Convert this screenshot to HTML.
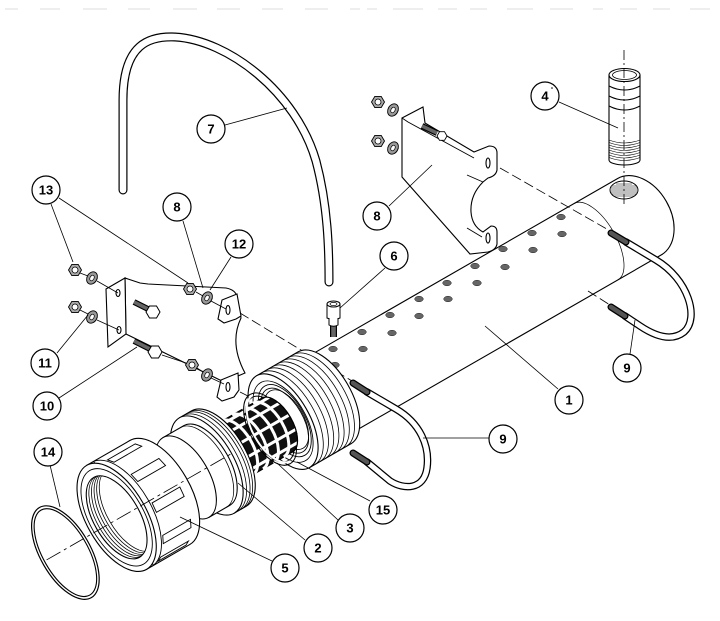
<!DOCTYPE html>
<html><head><meta charset="utf-8"><style>
html,body{margin:0;padding:0;background:#fff;}
svg{display:block;}
text{font-family:"Liberation Sans",Arial,sans-serif;font-weight:bold;font-size:13px;text-anchor:middle;fill:#000;}
</style></head><body>
<svg width="720" height="621" viewBox="0 0 720 621" xmlns="http://www.w3.org/2000/svg" xmlns:xlink="http://www.w3.org/1999/xlink">
<defs>
<g id="nut"><polygon points="6.5,0 3.2,5.6 -3.2,5.6 -6.5,0 -3.2,-5.6 3.2,-5.6" fill="#aaa" stroke="#000" stroke-width="0.9"/><circle r="3" fill="#fff" stroke="#000" stroke-width="0.8"/></g>
<g id="wash"><ellipse rx="5" ry="6.5" transform="rotate(30)" fill="#999" stroke="#000" stroke-width="0.9"/><ellipse rx="2" ry="3" transform="rotate(30)" fill="#fff" stroke="#000" stroke-width="0.7"/></g>
</defs>
<rect width="720" height="621" fill="#fff"/>
<!-- top faint noise -->
<g stroke="#ddd" stroke-width="1">
<path d="M5,9H18M40,9H60M83,9H107M128,9H150M173,9H197M217,9H240M262,9H283M305,9H328M350,9H360M367,9H377M393,9H423M438,9H457M470,9H487M507,9H533M550,9H573M593,9H603M620,9H637M653,9H670M690,9H710"/>
</g>

<!-- U-bolt 7 -->
<path d="M123,190 L123,100 C123,43 150,36 175,37 C228,40 296,92 316,161 C328,206 329,250 329,282" fill="none" stroke="#000" stroke-width="9" stroke-linecap="round"/>
<path d="M123,190 L123,100 C123,43 150,36 175,37 C228,40 296,92 316,161 C328,206 329,250 329,282" fill="none" stroke="#fff" stroke-width="6.6" stroke-linecap="round"/>

<!-- Right bracket 8 -->
<g stroke="#000" stroke-width="1.1" fill="#fff">
<path d="M402,118 L423,107 L425,123 L474,152 L489,146 Q497,146 497,153 L497,170 Q496,176 488,178 L483,182 Q470,195 471,212 Q472,226 483,232 L491,226 Q497,226 497,232 L497,244 Q496,250 488,252 L470,254 L402,177 Z"/>
<path d="M402,118 L408,122 L474,158 M467,175 L483,182 M467,228 L482,237" fill="none" stroke-width="0.9"/>
<ellipse cx="488" cy="163" rx="2" ry="5"/>
<ellipse cx="488" cy="238" rx="2" ry="5"/>
</g>
<line x1="422" y1="126" x2="437" y2="133" stroke="#000" stroke-width="6"/>
<line x1="422" y1="126" x2="437" y2="133" stroke="#666" stroke-width="3.6"/>
<polygon points="447,136 444.5,140.3 439.5,140.3 437,136 439.5,131.7 444.5,131.7" fill="#fff" stroke="#000" stroke-width="0.9"/>
<use xlink:href="#nut" href="#nut" x="378" y="102"/>
<use xlink:href="#wash" href="#wash" x="393" y="110"/>
<use xlink:href="#nut" href="#nut" x="378" y="141"/>
<use xlink:href="#wash" href="#wash" x="393" y="148"/>

<!-- Part 4 fitting -->
<g stroke="#000" stroke-width="1.1">
<path d="M609,75 L609,160 A15.5 5 0 0 0 640,160 L640,75 Z" fill="#fff"/>
<ellipse cx="624.5" cy="75" rx="15.5" ry="6.5" fill="#fff"/>
<ellipse cx="624.5" cy="75" rx="12" ry="4.5" fill="#fff" stroke-width="0.8"/>
<path d="M609,86 Q624.5,94 640,86 M609,96 Q624.5,104 640,96 M609,106 Q624.5,114 640,106" fill="none" stroke-width="1"/>
<path d="M609,140 Q624.5,146 640,140 M609,142.5 Q624.5,148.5 640,142.5 M609,145 Q624.5,151 640,145 M609,147.5 Q624.5,153.5 640,147.5 M609,150 Q624.5,156 640,150 M609,152.5 Q624.5,158.5 640,152.5 M609,155 Q624.5,161 640,155 M609,157.5 Q624.5,163.5 640,157.5" fill="none" stroke-width="0.6"/>
</g>

<!-- Tube 1 -->
<g transform="translate(324.7,397.7) rotate(-29.9)" stroke="#000" stroke-width="1.1">
<path d="M0,-44 L363,-44 A31 44 0 0 1 363,44 L0,44 Z" fill="#fff"/>
<path d="M313,-44 A20 44 0 0 1 313,44" fill="none" stroke-width="0.7"/>
</g>
<!-- threaded hole -->
<ellipse cx="624" cy="190" rx="14" ry="9" fill="#fff" stroke="#000" stroke-width="1"/>
<g stroke="#000" stroke-width="0.5"><path d="M612,186H636M611,188H637M611,190H637M611,192H637M612,194H636M614,196H634M616,184H632"/></g>
<!-- dots -->
<g fill="#666" stroke="#222" stroke-width="0.5">
<ellipse cx="561" cy="217" rx="4.3" ry="2.8"/><ellipse cx="532" cy="233" rx="4.3" ry="2.8"/><ellipse cx="562" cy="234" rx="4.3" ry="2.8"/>
<ellipse cx="503" cy="249" rx="4.3" ry="2.8"/><ellipse cx="533" cy="250" rx="4.3" ry="2.8"/><ellipse cx="475" cy="266" rx="4.3" ry="2.8"/>
<ellipse cx="505" cy="267" rx="4.3" ry="2.8"/><ellipse cx="447" cy="283" rx="4.3" ry="2.8"/><ellipse cx="477" cy="283" rx="4.3" ry="2.8"/>
<ellipse cx="419" cy="299" rx="4.3" ry="2.8"/><ellipse cx="448" cy="299" rx="4.3" ry="2.8"/><ellipse cx="390" cy="315" rx="4.3" ry="2.8"/>
<ellipse cx="419" cy="316" rx="4.3" ry="2.8"/><ellipse cx="362" cy="332" rx="4.3" ry="2.8"/><ellipse cx="392" cy="333" rx="4.3" ry="2.8"/>
<ellipse cx="333" cy="349" rx="4.3" ry="2.8"/><ellipse cx="363" cy="349" rx="4.3" ry="2.8"/><ellipse cx="335" cy="365" rx="4.3" ry="2.8"/>
</g>
<!-- dashed alignment lines -->
<g stroke="#000" stroke-width="0.8" stroke-dasharray="10,4" fill="none">
<path d="M500,168 L612,232"/>
<path d="M588,291 L610,305"/>
<path d="M240,313 L352,381"/>
<path d="M240,392 L262,403"/>
<path d="M624,50 L624,205" stroke-dasharray="10,3,2,3"/>
</g>

<!-- U-bolt 9 right -->
<path d="M626,242 L656,260 C688,279 700,318 684,332 C670,343 652,334 640,326 L625,316" fill="none" stroke="#000" stroke-width="7.5" stroke-linecap="round"/>
<path d="M626,242 L656,260 C688,279 700,318 684,332 C670,343 652,334 640,326 L625,316" fill="none" stroke="#fff" stroke-width="5" stroke-linecap="round"/>
<g stroke-linecap="round"><line x1="611" y1="233" x2="626" y2="242" stroke="#000" stroke-width="7"/><line x1="611" y1="233" x2="626" y2="242" stroke="#555" stroke-width="4.5"/>
<line x1="611" y1="307" x2="625" y2="316" stroke="#000" stroke-width="7"/><line x1="611" y1="307" x2="625" y2="316" stroke="#555" stroke-width="4.5"/></g>
<!-- U-bolt 9 middle -->
<path d="M367,392 L396,409 C420,423 430,446 427,468 C424,490 404,490 390,481 L367,462" fill="none" stroke="#000" stroke-width="7.5" stroke-linecap="round"/>
<path d="M367,392 L396,409 C420,423 430,446 427,468 C424,490 404,490 390,481 L367,462" fill="none" stroke="#fff" stroke-width="5" stroke-linecap="round"/>
<g stroke-linecap="round"><line x1="353" y1="383" x2="367" y2="392" stroke="#000" stroke-width="7"/><line x1="353" y1="383" x2="367" y2="392" stroke="#555" stroke-width="4.5"/>
<line x1="353" y1="453" x2="367" y2="462" stroke="#000" stroke-width="7"/><line x1="353" y1="453" x2="367" y2="462" stroke="#555" stroke-width="4.5"/></g>

<!-- Left assembly along axis -->
<g transform="translate(324.7,397.7) rotate(-29.9)" stroke="#000" stroke-width="1.1">
<defs><clipPath id="bore"><ellipse cx="-240" cy="0" rx="23" ry="46"/></clipPath></defs>
<!-- collar -->
<path d="M-48,-53 L0,-53 A26.5 53 0 0 1 0,53 L-48,53 Z" fill="#fff"/>
<path d="M-42,-53A26.5 53 0 0 1 -42,53M-36,-53A26.5 53 0 0 1 -36,53M-30,-53A26.5 53 0 0 1 -30,53M-24,-53A26.5 53 0 0 1 -24,53M-18,-53A26.5 53 0 0 1 -18,53M-12,-53A26.5 53 0 0 1 -12,53M-6,-53A26.5 53 0 0 1 -6,53" fill="none" stroke-width="0.8"/>
<ellipse cx="-48" cy="0" rx="26.5" ry="53" fill="#fff"/>
<ellipse cx="-48" cy="0" rx="23" ry="45" fill="#fff" stroke-width="0.9"/>
<ellipse cx="-46" cy="0" rx="20" ry="40" fill="#fff" stroke-width="0.9"/>
<ellipse cx="-46" cy="0" rx="18" ry="36" fill="none" stroke-width="0.9"/>
<ellipse cx="-44" cy="0" rx="17" ry="33" fill="none" stroke-width="0.8"/>
<!-- ring 3 back half -->
<path d="M-63,-40 A20 40 0 0 1 -63,40 M-63,-36.5 A18.2 36.5 0 0 1 -63,36.5" fill="none" stroke-width="1"/>
<!-- strainer -->
<path d="M-135,-31 L-55,-31 A15.5 31 0 0 1 -55,31 L-135,31 Z" fill="#111"/>
<g stroke="#fff" stroke-width="3" fill="none">
<path d="M-125,-31A15.5 31 0 0 1 -125,31M-113,-31A15.5 31 0 0 1 -113,31M-101,-31A15.5 31 0 0 1 -101,31M-89,-31A15.5 31 0 0 1 -89,31M-77,-31A15.5 31 0 0 1 -77,31M-65,-31A15.5 31 0 0 1 -65,31"/>
<path d="M-128,-28 L-48,-28 M-122,-17.8 L-42,-17.8 M-120,-2.7 L-40,-2.7 M-121,13 L-41,13 M-126,25.4 L-46,25.4"/>
</g>
<path d="M-55,-31 A15.5 31 0 0 1 -55,31" fill="none" stroke-width="1.2"/>
<!-- ring 3 front half -->
<path d="M-63,-40 A20 40 0 0 0 -63,40 M-63,-36.5 A18.2 36.5 0 0 0 -63,36.5" fill="none" stroke-width="1.1"/>
<path d="M-61,-38 A19 38 0 0 0 -61,38" fill="none" stroke="#fff" stroke-width="2"/>
<!-- adapter 2 -->
<path d="M-136,-55 L-122,-55 A27.5 55 0 0 1 -122,55 L-136,55 Z" fill="#fff"/>
<path d="M-132,-55A27.5 55 0 0 1 -132,55M-128,-55A27.5 55 0 0 1 -128,55M-125,-55A27.5 55 0 0 1 -125,55" fill="none" stroke-width="0.8"/>
<ellipse cx="-136" cy="0" rx="27.5" ry="55" fill="#fff"/>
<path d="M-160,-46 L-136,-46 A23 46 0 0 1 -136,46 L-160,46 Z" fill="#fff"/>
<path d="M-140,-46A23 46 0 0 1 -140,46" fill="none" stroke-width="0.8"/>
<ellipse cx="-160" cy="0" rx="23" ry="46" fill="#fff"/>
<!-- nut 5 -->
<path d="M-240,-60 L-190,-60 A30 60 0 0 1 -190,60 L-240,60 Z" fill="#fff"/>
<g fill="#fff" stroke-width="0.9">
<path d="M-219.3,-54.4 L-187.3,-54.4 L-182.8,-49.1 L-214.8,-49.1 Z"/>
<path d="M-206,-30 L-174,-30 L-171.8,-20.5 L-203.8,-20.5 Z"/>
<path d="M-202.1,5.2 L-170.1,5.2 L-171,15.5 L-203,15.5 Z"/>
<path d="M-209,38.6 L-177,38.6 L-180.7,46 L-212.7,46 Z"/>
<path d="M-221.7,56.4 L-189.7,56.4 L-193.8,58.7 L-225.8,58.7 Z"/>
<path d="M-232,-60 L-232,60" fill="none"/>
</g>
<path d="M-234,-60A30 60 0 0 1 -234,60" fill="none" stroke-width="0.9"/>
<ellipse cx="-240" cy="0" rx="30" ry="60" fill="#fff"/>
<ellipse cx="-240" cy="0" rx="27" ry="54" fill="none" stroke-width="0.9"/>
<ellipse cx="-240" cy="0" rx="23" ry="46" fill="#fff"/>
<g clip-path="url(#bore)" fill="none" stroke-width="0.8">
<path d="M-237,-46A23 46 0 0 0 -237,46M-234,-46A23 46 0 0 0 -234,46M-231,-46A23 46 0 0 0 -231,46M-228,-46A23 46 0 0 0 -228,46M-225,-46A23 46 0 0 0 -225,46"/>
</g>
<!-- O-ring 14 -->
<ellipse cx="-302" cy="5" rx="25" ry="52" fill="none" stroke-width="1.2"/>
<ellipse cx="-302" cy="5" rx="22.5" ry="49" fill="none" stroke-width="1.1"/>
<!-- axis -->
<path d="M-322,2 L-108,2" fill="none" stroke-width="0.8" stroke-dasharray="16,4,3,4"/>
</g>

<!-- Left bracket 8 -->
<g stroke="#000" stroke-width="1.1" fill="#fff">
<path d="M125,278 L140,283 L148,284 L226,288 Q236,290 237,297 L241,318 Q229,343 245,373 L238,376 L222,381 L126,334 Z"/>
<path d="M106,289 L125,278 L126,334 L108,347 Z"/>
<ellipse cx="118" cy="293" rx="2" ry="3.5"/>
<ellipse cx="119" cy="330" rx="2" ry="3.5"/>
<path d="M237,294 L222,300 L218,319 L224,323 L236,319 L241,316 Z"/>
<path d="M238,373 L221,380 L217,397 L222,401 L234,397 L239,390 Z"/>
<ellipse cx="228" cy="310" rx="2" ry="4.5"/>
<ellipse cx="228" cy="387" rx="2" ry="4.5"/>
</g>
<!-- bolt center lines -->
<g stroke="#000" stroke-width="0.8" fill="none">
<path d="M80,273 L88,276 M97,281 L118,293 M196,292 L203,296 M211,301 L226,309"/>
<path d="M80,310 L88,314 M97,320 L119,330 M162,355 L186,363 M197,368 L203,372 M211,378 L224,384"/>
</g>
<g stroke-linecap="butt">
<line x1="134" y1="302" x2="148" y2="309" stroke="#000" stroke-width="6"/><line x1="134" y1="302" x2="148" y2="309" stroke="#666" stroke-width="3.6"/>
<line x1="134" y1="341" x2="150" y2="349" stroke="#000" stroke-width="6"/><line x1="134" y1="341" x2="150" y2="349" stroke="#666" stroke-width="3.6"/>
</g>
<polygon points="160,312 156.5,318 149.5,318 146,312 149.5,306 156.5,306" fill="#fff" stroke="#000" stroke-width="1"/>
<polygon points="162,352 158.5,358 151.5,358 148,352 151.5,346 158.5,346" fill="#fff" stroke="#000" stroke-width="1"/>
<use xlink:href="#nut" href="#nut" x="75" y="270"/>
<use xlink:href="#wash" href="#wash" x="92" y="278"/>
<use xlink:href="#nut" href="#nut" x="75" y="307"/>
<use xlink:href="#wash" href="#wash" x="92" y="317"/>
<use xlink:href="#nut" href="#nut" x="190" y="289"/>
<use xlink:href="#wash" href="#wash" x="207" y="298"/>
<use xlink:href="#nut" href="#nut" x="192" y="365"/>
<use xlink:href="#wash" href="#wash" x="207" y="375"/>

<!-- Part 6 -->
<g stroke="#000" stroke-width="1">
<line x1="333.5" y1="322" x2="333.5" y2="337" stroke-width="7"/>
<line x1="333.5" y1="322" x2="333.5" y2="337" stroke="#666" stroke-width="4.6"/>
<path d="M327,304 L327,318 Q333.5,321 340,318 L340,304 Z" fill="#fff"/>
<path d="M329,318 L329,325 Q333.5,327.5 338,325 L338,318" fill="#fff"/>
<ellipse cx="333.5" cy="304" rx="6.5" ry="3" fill="#fff"/>
<ellipse cx="333.5" cy="304" rx="3.5" ry="1.6" fill="#fff" stroke-width="0.7"/>
</g>

<!-- Leader lines -->
<g stroke="#000" stroke-width="0.8" fill="none">
<path d="M225,125 L287,108"/>
<path d="M51,204 L73,262 M59,198 L188,283"/>
<path d="M183,221 L203,288"/>
<path d="M231,257 L210,290"/>
<path d="M389,206 L432,165"/>
<path d="M385,268 L340,308"/>
<path d="M559,102 L618,128"/>
<path d="M630,354 L635,320"/>
<path d="M558,389 L485,326"/>
<path d="M489,438 L423,438"/>
<path d="M370,501 L297,462"/>
<path d="M338,520 L277,463"/>
<path d="M305,540 L238,483"/>
<path d="M272,561 L180,517"/>
<path d="M50,465 L60,507"/>
<path d="M57,353 L88,315"/>
<path d="M59,398 L137,347"/>
</g>

<!-- Labels -->
<g stroke="#000" stroke-width="1.2" fill="#fff">
<circle cx="211" cy="129" r="14"/>
<circle cx="46" cy="190" r="14"/>
<circle cx="177" cy="207" r="14"/>
<circle cx="239" cy="244" r="14"/>
<circle cx="377" cy="216" r="14"/>
<circle cx="394" cy="256" r="14"/>
<circle cx="545" cy="96" r="14"/>
<circle cx="627" cy="368" r="14"/>
<circle cx="569" cy="400" r="14"/>
<circle cx="503" cy="439" r="14"/>
<circle cx="45" cy="363" r="14"/>
<circle cx="47" cy="406" r="14"/>
<circle cx="48" cy="452" r="14"/>
<circle cx="383" cy="510" r="14"/>
<circle cx="350" cy="528" r="14"/>
<circle cx="318" cy="548" r="14"/>
<circle cx="285" cy="568" r="14"/>
</g>
<g>
<text x="211" y="133.5">7</text>
<text x="46" y="194.5">13</text>
<text x="177" y="211.5">8</text>
<text x="239" y="248.5">12</text>
<text x="377" y="220.5">8</text>
<text x="394" y="260.5">6</text>
<text x="545" y="100.5">4</text>
<text x="627" y="372.5">9</text>
<text x="569" y="404.5">1</text>
<text x="503" y="443.5">9</text>
<text x="45" y="367.5">11</text>
<text x="47" y="410.5">10</text>
<text x="48" y="456.5">14</text>
<text x="383" y="514.5">15</text>
<text x="350" y="532.5">3</text>
<text x="318" y="552.5">2</text>
<text x="285" y="572.5">5</text>
</g>
<circle cx="552" cy="88" r="0.8" fill="#000"/>
</svg>
</body></html>
